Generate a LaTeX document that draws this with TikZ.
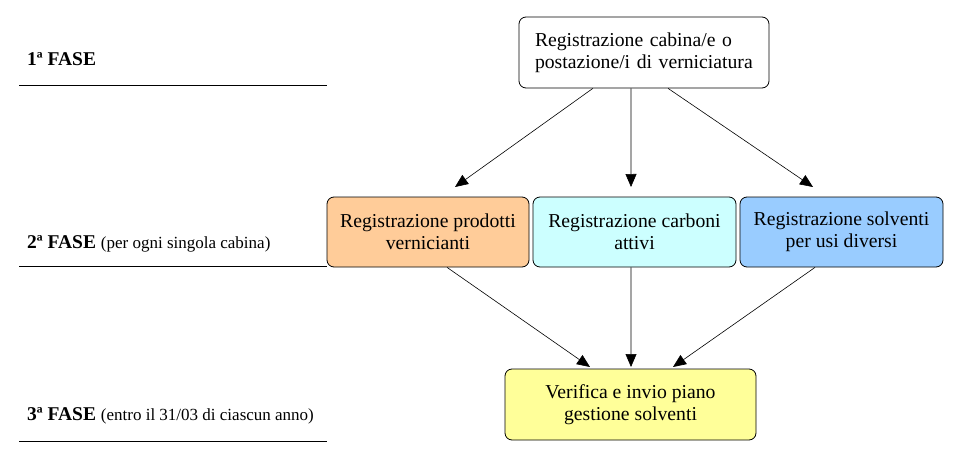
\documentclass[tikz,border=0pt]{standalone}
\usepackage{fontspec}
\setmainfont{Liberation Serif}
\usetikzlibrary{arrows.meta,calc}
\definecolor{cOrange}{HTML}{FFCC99}
\definecolor{cCyan}{HTML}{CCFFFF}
\definecolor{cBlue}{HTML}{99CCFF}
\definecolor{cYellow}{HTML}{FFFF99}
\tikzset{
  box/.style={draw=black, line width=0.8pt, rounded corners=7pt, inner sep=0pt,
    font=\fontsize{19.7}{22}\selectfont, align=center},
  conn/.style={line width=0.6pt, -{Triangle[length=13pt,width=11pt]}},
  phase/.style={anchor=base west, inner sep=0pt, font=\fontsize{19.5}{22}\selectfont},
  sep/.style={line width=0.8pt}
}
\newcommand{\smalltxt}[1]{{\fontsize{17}{20}\selectfont #1}}
\begin{document}
\begin{tikzpicture}[x=1pt,y=-1pt]
\useasboundingbox (0,0) rectangle (959,460);
% phase labels and lines
\node[phase] (f1) at (27,66) {\textbf{1ª FASE}};
\node[phase] (f2) at (27,248) {\textbf{2ª FASE} \smalltxt{(per ogni singola cabina)}};
\node[phase] (f3) at (27,420) {\textbf{3ª FASE} \smalltxt{(entro il 31/03 di ciascun anno)}};
\coordinate (l1a) at (19,85);  \coordinate (l1b) at (327,85);
\coordinate (l2a) at (19,266); \coordinate (l2b) at (327,266);
\coordinate (l3a) at (19,441); \coordinate (l3b) at (327,441);
\draw[sep] (l1a) -- (l1b);
\draw[sep] (l2a) -- (l2b);
\draw[sep] (l3a) -- (l3b);
% boxes
\node[box, fill=white, minimum width=250pt, minimum height=71pt, text width=218pt, align=left] (top) at (644,52.5)
  {Registrazione cabina/e o\\postazione/i di verniciatura};
\node[box, fill=cOrange, minimum width=202pt, minimum height=70pt] (prod) at (428,232)
  {Registrazione prodotti\\vernicianti};
\node[box, fill=cCyan, minimum width=203pt, minimum height=70pt] (carb) at (634.5,232)
  {Registrazione carboni\\attivi};
\node[box, fill=cBlue, minimum width=203pt, minimum height=70pt] (solv) at (841.5,232)
  {Registrazione solventi\\per usi diversi};
\node[box, fill=cYellow, minimum width=251pt, minimum height=71pt] (ver) at (630.5,404.5)
  {Verifica e invio piano\\gestione solventi};
% arrow end points
\coordinate (a1) at (455,187);
\coordinate (a2) at (631,187);
\coordinate (a3) at (813,187);
\coordinate (b1) at (590,367);
\coordinate (b2) at (631,367);
\coordinate (b3) at (673,367);
\draw[conn] ($(top.south west)!0.296!(top.south east)$) -- (a1);
\draw[conn] ($(top.south west)!0.448!(top.south east)$) -- (a2);
\draw[conn] ($(top.south west)!0.596!(top.south east)$) -- (a3);
\draw[conn] ($(prod.south west)!0.594!(prod.south east)$) -- (b1);
\draw[conn] ($(carb.south west)!0.483!(carb.south east)$) -- (b2);
\draw[conn] ($(solv.south west)!0.37!(solv.south east)$) -- (b3);
\end{tikzpicture}
\end{document}
